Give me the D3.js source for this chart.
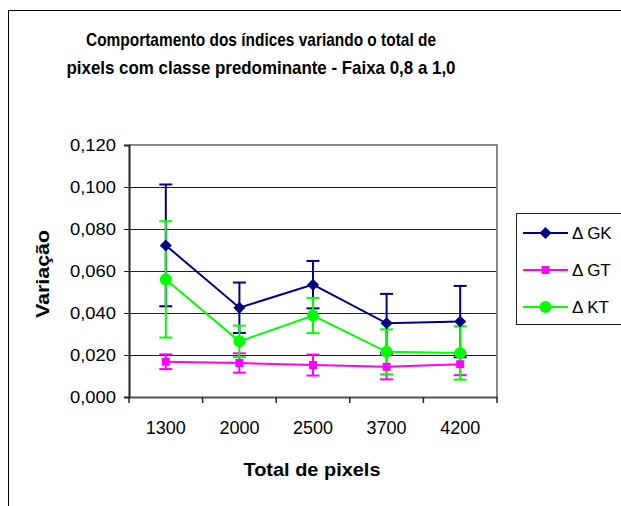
<html>
<head>
<meta charset="utf-8">
<title>Comportamento dos índices</title>
<script src="https://d3js.org/d3.v7.min.js"></script>
<style>
  body { margin: 0; background: #fff; }
  text { font-family: "Liberation Sans", Arial, sans-serif; }
</style>
</head>
<body>
<div id="chart"></div>
<script>
// data
var categories = ["1300", "2000", "2500", "3700", "4200"];
var gk    = [0.0722, 0.0425, 0.0535, 0.0351, 0.0359];
var gkErr = [0.0290, 0.0120, 0.0113, 0.0140, 0.0170];
var gt    = [0.0168, 0.0162, 0.0152, 0.0144, 0.0156];
var gtErr = [0.0035, 0.0046, 0.0050, 0.0060, 0.0052];
var kt    = [0.0560, 0.0265, 0.0388, 0.0215, 0.0210];
var ktErr = [0.0277, 0.0075, 0.0084, 0.0107, 0.0127];
var yTicks = [0, 0.02, 0.04, 0.06, 0.08, 0.10, 0.12];

var series = [
  {name: "\u0394 GK", values: gk, err: gkErr, color: "#000080", shape: "diamond"},
  {name: "\u0394 GT", values: gt, err: gtErr, color: "#FF00FF", shape: "square"},
  {name: "\u0394 KT", values: kt, err: ktErr, color: "#00FF00", shape: "circle"}
];

var W = 621, H = 506;
var pl = 129, pr = 497, pt = 145, pb = 397;

var svg = d3.select("#chart").append("svg")
  .attr("width", W).attr("height", H);

// outer chart frame
svg.append("rect")
  .attr("x", 8.5).attr("y", 10.5)
  .attr("width", 700).attr("height", 600)
  .attr("fill", "white").attr("stroke", "black").attr("stroke-width", 1);

var x = d3.scaleBand().domain(categories).range([pl, pr]);
var y = d3.scaleLinear().domain([0, 0.12]).range([pb, pt]);

var fmt = function(d) { return d3.format(".3f")(d).replace(".", ","); };

// gridlines
svg.append("g").selectAll("line")
  .data(yTicks.slice(1, -1))
  .enter().append("line")
  .attr("x1", pl).attr("x2", pr)
  .attr("y1", function(d) { return Math.round(y(d)) + 0.5; })
  .attr("y2", function(d) { return Math.round(y(d)) + 0.5; })
  .attr("stroke", "#222").attr("stroke-width", 1);

// plot area border (top/right)
svg.append("path")
  .attr("d", "M" + pl + "," + pt + "H" + pr + "V" + pb)
  .attr("fill", "none").attr("stroke", "#8a8a8a").attr("stroke-width", 2);

// y axis
var yAxis = svg.append("g")
  .attr("transform", "translate(" + pl + ",0)")
  .call(d3.axisLeft(y).tickValues(yTicks).tickFormat(fmt).tickSize(5).tickPadding(8));
yAxis.select(".domain").attr("stroke", "#222").attr("stroke-width", 2);
yAxis.selectAll(".tick line").attr("stroke", "#222");
yAxis.selectAll("text").style("font-size", "17px").attr("fill", "#000")
  .attr("textLength", 46).attr("lengthAdjust", "spacingAndGlyphs");

// x axis, ticks at category boundaries
var xAxis = svg.append("g")
  .attr("transform", "translate(0," + pb + ")")
  .call(d3.axisBottom(x).tickSize(0).tickPadding(24));
xAxis.select(".domain").attr("stroke", "#555").attr("stroke-width", 2);
xAxis.selectAll("text").style("font-size", "18px").attr("fill", "#000");
var bounds = categories.map(function(c) { return x(c); }).concat([pr]);
xAxis.selectAll(".bnd").data(bounds).enter().append("line")
  .attr("x1", function(d) { return d; }).attr("x2", function(d) { return d; })
  .attr("y1", 0).attr("y2", 6)
  .attr("stroke", "#222").attr("stroke-width", 1.5);

var cx = function(i) { return x(categories[i]) + x.bandwidth() / 2; };

// error bars
series.forEach(function(s) {
  var g = svg.append("g").attr("stroke", s.color).attr("stroke-width", 2);
  s.values.forEach(function(v, i) {
    var hi = y(v + s.err[i]), lo = y(v - s.err[i]), px = cx(i);
    g.append("line").attr("x1", px).attr("x2", px).attr("y1", hi).attr("y2", lo);
    g.append("line").attr("x1", px - 6.5).attr("x2", px + 6.5).attr("y1", hi).attr("y2", hi);
    g.append("line").attr("x1", px - 6.5).attr("x2", px + 6.5).attr("y1", lo).attr("y2", lo);
  });
});

var line = d3.line()
  .x(function(d, i) { return cx(i); })
  .y(function(d) { return y(d); });

function marker(g, shape, color) {
  if (shape === "diamond") {
    g.append("path").attr("d", "M0,-6L6,0L0,6L-6,0Z").attr("fill", color);
  } else if (shape === "square") {
    g.append("rect").attr("x", -4).attr("y", -4).attr("width", 8).attr("height", 8).attr("fill", color);
  } else {
    g.append("circle").attr("r", 6).attr("fill", color);
  }
}

series.forEach(function(s) {
  svg.append("path").datum(s.values)
    .attr("d", line)
    .attr("fill", "none").attr("stroke", s.color).attr("stroke-width", 2);
});
series.forEach(function(s) {
  s.values.forEach(function(v, i) {
    marker(svg.append("g").attr("transform", "translate(" + cx(i) + "," + y(v) + ")"), s.shape, s.color);
  });
});

// title
var titleLines = ["Comportamento dos índices variando o total de",
                  "pixels com classe predominante - Faixa 0,8 a 1,0"];
var titleWidths = [350, 389];
titleLines.forEach(function(t, i) {
  svg.append("text")
    .attr("x", 261).attr("y", 46 + i * 28)
    .attr("text-anchor", "middle")
    .attr("textLength", titleWidths[i]).attr("lengthAdjust", "spacingAndGlyphs")
    .style("font-size", "19px").style("font-weight", "bold")
    .text(t);
});

// axis titles
svg.append("text")
  .attr("transform", "translate(49,274) rotate(-90)")
  .attr("text-anchor", "middle")
  .attr("textLength", 88).attr("lengthAdjust", "spacingAndGlyphs")
  .style("font-size", "19px").style("font-weight", "bold")
  .text("Variação");

svg.append("text")
  .attr("x", 312).attr("y", 476)
  .attr("text-anchor", "middle")
  .attr("textLength", 137).attr("lengthAdjust", "spacingAndGlyphs")
  .style("font-size", "18px").style("font-weight", "bold")
  .text("Total de pixels");

// legend
var lg = svg.append("g");
lg.append("rect")
  .attr("x", 516.5).attr("y", 213.5).attr("width", 120).attr("height", 111)
  .attr("fill", "white").attr("stroke", "#222").attr("stroke-width", 1);
var legendY = d3.scalePoint().domain(series.map(function(s) { return s.name; })).range([233, 307]);
series.forEach(function(s) {
  var ly = legendY(s.name);
  lg.append("line").attr("x1", 523).attr("x2", 568).attr("y1", ly).attr("y2", ly)
    .attr("stroke", s.color).attr("stroke-width", 2);
  marker(lg.append("g").attr("transform", "translate(545.5," + ly + ")"), s.shape, s.color);
  lg.append("text").attr("x", 572).attr("y", ly + 6)
    .style("font-size", "17px").text(s.name);
});
</script>
</body>
</html>
